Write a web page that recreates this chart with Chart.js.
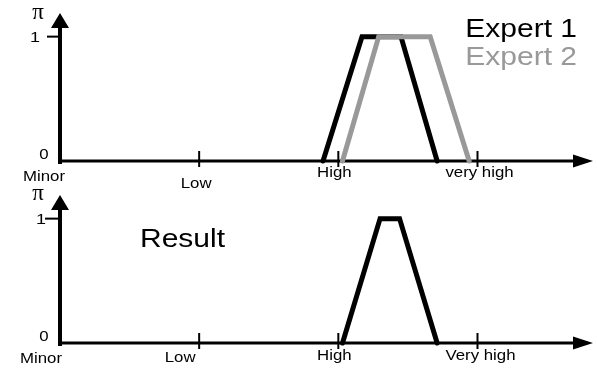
<!DOCTYPE html>
<html>
<head>
<meta charset="utf-8">
<script src="https://cdn.jsdelivr.net/npm/chart.js@4"></script>
<style>
  body { margin: 0; background: #fff; }
  .panel { position: absolute; left: 0; width: 597px; }
</style>
</head>
<body>
<div class="panel" style="top:0;height:196px"><canvas id="top" width="597" height="196"></canvas></div>
<div class="panel" style="top:185px;height:184px"><canvas id="bottom" width="597" height="184"></canvas></div>
<script>
// x positions of the named levels
const levelValues = [0, 1, 2, 3];
const topLevelLabels = ["Minor", "Low", "High", "very high"];
const bottomLevelLabels = ["Minor", "Low", "High", "Very high"];

// membership functions (x, possibility)
const expert1X = [1.89, 2.17, 2.45, 2.71];
const expert1Y = [0, 1, 1, 0];
const expert2X = [2.03, 2.29, 2.66, 2.94];
const expert2Y = [0, 1, 1, 0];
const resultX = [2.03, 2.30, 2.44, 2.71];
const resultY = [0, 1, 1, 0];

const FONT = '"Liberation Sans", Arial, sans-serif';
const STRETCH = 1.2;

function txt(ctx, s, x, y, size, color, align) {
  ctx.save();
  ctx.translate(x, y);
  ctx.scale(STRETCH, 1);
  ctx.font = size + 'px ' + FONT;
  ctx.fillStyle = color;
  ctx.textAlign = align || 'center';
  ctx.textBaseline = 'alphabetic';
  ctx.fillText(s, 0, 0);
  ctx.restore();
}

function toPts(xs, ys) {
  return xs.map((x, i) => ({ x: x, y: ys[i] }));
}

// draws the arrowed axes, tick marks and labels from the chart scales
const axesPlugin = {
  id: 'axes',
  beforeDatasetsDraw(chart) {
    const o = chart.options.plugins.axes;
    const ctx = chart.ctx;
    const xs = chart.scales.x, ys = chart.scales.y;
    const x0 = xs.getPixelForValue(0);
    const y0 = ys.getPixelForValue(0);
    const y1 = ys.getPixelForValue(1);
    const top = chart.chartArea.top;
    const right = chart.chartArea.right;
    ctx.save();
    ctx.strokeStyle = '#000';
    ctx.fillStyle = '#000';
    // y axis
    ctx.lineWidth = 4;
    ctx.beginPath();
    ctx.moveTo(x0, y0 + 3);
    ctx.lineTo(x0, top + 10);
    ctx.stroke();
    ctx.beginPath();
    ctx.moveTo(x0, top);
    ctx.lineTo(x0 - 9, top + 15);
    ctx.lineTo(x0 + 9, top + 15);
    ctx.closePath();
    ctx.fill();
    // x axis
    ctx.lineWidth = 3;
    ctx.beginPath();
    ctx.moveTo(x0, y0);
    ctx.lineTo(right - 10, y0);
    ctx.stroke();
    ctx.beginPath();
    ctx.moveTo(right, y0);
    ctx.lineTo(right - 20, y0 - 6.5);
    ctx.lineTo(right - 20, y0 + 6.5);
    ctx.closePath();
    ctx.fill();
    // tick marks on x
    ctx.lineWidth = 2;
    levelValues.forEach(v => {
      if (v === 0) return;
      const px = xs.getPixelForValue(v);
      ctx.beginPath();
      ctx.moveTo(px, y0 - 10);
      ctx.lineTo(px, y0 + 6);
      ctx.stroke();
    });
    // tick at 1 on y
    ctx.beginPath();
    ctx.moveTo(x0 - o.oneTick, y1);
    ctx.lineTo(x0, y1);
    ctx.stroke();
    ctx.restore();

    // labels
    o.labels.forEach((s, i) => {
      const px = xs.getPixelForValue(levelValues[i]);
      txt(ctx, s, px + o.dx[i], y0 + o.dy[i], 14, '#000');
    });
    txt(ctx, '1', x0 + o.oneX, y1 + 5, 15, '#000');
    txt(ctx, '0', x0 - 16, y0 - 2, 14, '#000');
    ctx.save();
    ctx.font = '23px "Liberation Serif", serif';
    ctx.fillStyle = '#000';
    ctx.textAlign = 'center';
    ctx.fillText('\u03c0', x0 + o.piX, top + o.piY);
    ctx.restore();
    o.texts.forEach(t => txt(ctx, t.s, t.x, t.y, 25, t.color, t.align));
  }
};

function makeChart(id, datasets, axesOpts, pad) {
  return new Chart(document.getElementById(id), {
    type: 'line',
    data: { datasets: datasets },
    options: {
      responsive: false,
      animation: false,
      layout: { padding: pad },
      scales: {
        x: { type: 'linear', min: 0, max: 3.83, display: false },
        y: { min: 0, max: 1.19, display: false }
      },
      elements: {
        point: { radius: 0 },
        line: { tension: 0, borderWidth: 5, borderCapStyle: 'round', borderJoinStyle: 'miter', fill: false }
      },
      plugins: { legend: { display: false }, tooltip: { enabled: false }, axes: axesOpts }
    },
    plugins: [axesPlugin]
  });
}

makeChart('top', [
  { label: 'Expert 1', data: toPts(expert1X, expert1Y), borderColor: '#000', clip: false, order: 2 },
  { label: 'Expert 2', data: toPts(expert2X, expert2Y), borderColor: '#999', clip: false, order: 1 }
], {
  labels: topLevelLabels,
  dx: [-16, -3, -4, 2],
  dy: [20, 26.5, 15.5, 15.5],
  oneTick: 13, oneX: -25, piX: -22, piY: 6,
  texts: [
    { s: 'Expert 1', x: 577, y: 37, color: '#000', align: 'right' },
    { s: 'Expert 2', x: 577, y: 65, color: '#999', align: 'right' }
  ]
}, { left: 60, right: 4, top: 13, bottom: 35 });

makeChart('bottom', [
  { label: 'Result', data: toPts(resultX, resultY), borderColor: '#000', clip: false }
], {
  labels: bottomLevelLabels,
  dx: [-19, -19, -4, 3],
  dy: [19.5, 19, 17, 17],
  oneTick: 15, oneX: -19, piX: -22, piY: 5,
  texts: [
    { s: 'Result', x: 140, y: 62, color: '#000', align: 'left' }
  ]
}, { left: 60, right: 4, top: 10, bottom: 26 });
</script>
</body>
</html>
